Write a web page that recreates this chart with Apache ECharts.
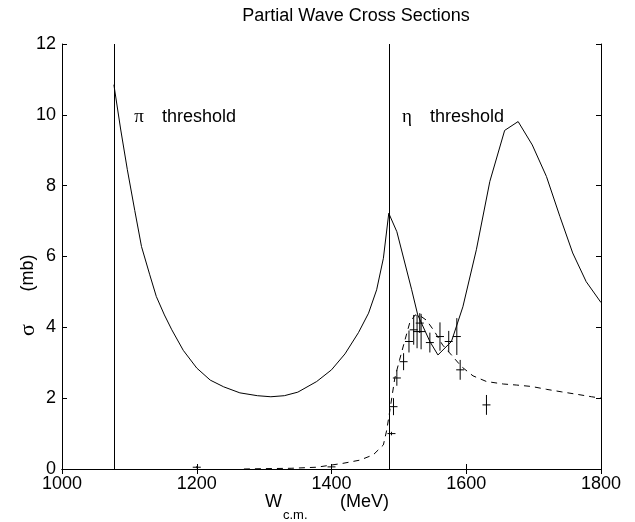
<!DOCTYPE html>
<html><head><meta charset="utf-8">
<script src="https://cdn.jsdelivr.net/npm/echarts@6/dist/echarts.min.js"></script>
<style>html,body{margin:0;padding:0;background:#fff}#c{width:635px;height:522px}</style>
</head><body><div id="c"></div>
<script>
const chartTitle = 'Partial Wave Cross Sections';
const xMin = 1000, xMax = 1800, xStep = 200;
const yMin = 0, yMax = 12, yStep = 2;
const thresholds = [1077, 1486];
const thresholdNames = ['π', 'η'];

// solid curve (W in MeV, sigma in mb)
const solidW = [1077,1087,1097,1108,1118,1130,1140,1152,1163,1180,1200,1220,1240,1264,1290,1310,1330,1350,1378,1400,1420,1440,1455,1467,1477,1485,1497,1519,1528,1546,1558,1578,1595,1615,1635,1657,1677,1698,1719,1739,1758,1778,1800];
const solidSigma = [10.85,9.6,8.45,7.3,6.28,5.5,4.87,4.35,3.93,3.35,2.85,2.51,2.32,2.15,2.07,2.04,2.07,2.17,2.47,2.8,3.25,3.85,4.4,5.06,5.95,7.22,6.7,5.06,4.35,3.6,3.22,3.6,4.58,6.19,8.12,9.56,9.81,9.15,8.26,7.13,6.1,5.29,4.7];

// dashed curve
const dashW = [1270,1300,1340,1378,1417,1442,1462,1477,1482,1487,1494,1501,1509,1516,1524,1532,1541,1553,1565,1578,1593,1610,1630,1655,1675,1697,1719,1741,1764,1786,1800];
const dashSigma = [0.0,0.01,0.02,0.05,0.16,0.25,0.4,0.68,1.1,1.7,2.57,3.08,3.64,4.12,4.35,4.32,4.2,3.88,3.5,3.22,2.89,2.63,2.47,2.4,2.37,2.33,2.25,2.18,2.11,2.04,2.0];

// data points with error bars
const dataW = [1200,1400,1489,1492,1497,1507,1515,1522,1527,1531,1533,1546,1561,1574,1586,1591,1630];
const dataSigma = [0.05,0.06,1.0,1.76,2.57,3.03,3.6,3.93,3.88,4.12,3.88,3.57,3.74,3.6,3.74,2.8,1.81];
const dataErr = [0.03,0.03,0.05,0.24,0.22,0.24,0.31,0.42,0.47,0.28,0.5,0.28,0.4,0.3,0.52,0.28,0.28];

const FONT = '"Liberation Sans", Arial, Helvetica, sans-serif';
const SERIF = '"Liberation Serif", "DejaVu Serif", serif';

const chart = echarts.init(document.getElementById('c'), null, {renderer: 'canvas'});

function axisCommon(showLabel) {
  return {
    axisLine: {show: true, lineStyle: {color: '#000', width: 1}},
    axisTick: {show: true, inside: true, length: 5, lineStyle: {color: '#000'}},
    axisLabel: {show: showLabel, color: '#000', fontSize: 18, fontFamily: FONT, margin: 6,
      formatter: function (v) { return String(v); }},
    splitLine: {show: false}
  };
}

const option = {
  animation: false,
  backgroundColor: '#fff',
  grid: {left: 62, right: 34, top: 44, bottom: 53, containLabel: false},
  xAxis: [
    Object.assign({type: 'value', min: xMin, max: xMax, interval: xStep, position: 'bottom'}, axisCommon(true)),
    Object.assign({type: 'value', min: xMin, max: xMax, interval: xStep, position: 'top'}, axisCommon(false))
  ],
  yAxis: [
    Object.assign({type: 'value', min: yMin, max: yMax, interval: yStep, position: 'left'}, axisCommon(true)),
    Object.assign({type: 'value', min: yMin, max: yMax, interval: yStep, position: 'right'}, axisCommon(false))
  ],
  series: [
    {
      type: 'line', xAxisIndex: 0, yAxisIndex: 0,
      data: solidW.map((w, i) => [w, solidSigma[i]]),
      showSymbol: false, smooth: false,
      lineStyle: {color: '#000', width: 1},
      markLine: {
        silent: true, symbol: 'none',
        label: {show: false},
        lineStyle: {color: '#000', width: 1, type: 'solid'},
        data: thresholds.map(t => ({xAxis: t}))
      }
    },
    {
      type: 'line', xAxisIndex: 0, yAxisIndex: 0,
      data: dashW.map((w, i) => [w, dashSigma[i]]),
      showSymbol: false, smooth: false,
      lineStyle: {color: '#000', width: 1, type: [6, 5]}
    },
    {
      type: 'custom', xAxisIndex: 0, yAxisIndex: 0,
      data: dataW.map((w, i) => [w, dataSigma[i], dataErr[i]]),
      encode: {x: 0, y: 1},
      renderItem: function (params, api) {
        const x = api.value(0), y = api.value(1), e = api.value(2);
        const c = api.coord([x, y]);
        const t = api.coord([x, y + e]);
        const b = api.coord([x, Math.max(0, y - e)]);
        return {
          type: 'group',
          children: [
            {type: 'line', shape: {x1: c[0], y1: t[1], x2: c[0], y2: b[1]}, style: {stroke: '#000', lineWidth: 1}},
            {type: 'line', shape: {x1: c[0] - 4, y1: c[1], x2: c[0] + 4, y2: c[1]}, style: {stroke: '#000', lineWidth: 1}}
          ]
        };
      }
    }
  ],
  graphic: [
    {type: 'text', x: 356, y: 16, style: {text: chartTitle, fill: '#000', font: '18px ' + FONT, textAlign: 'center', textVerticalAlign: 'middle'}},
    {type: 'text', x: 139, y: 117, style: {text: thresholdNames[0], fill: '#000', font: '19px ' + SERIF, textAlign: 'center', textVerticalAlign: 'middle'}},
    {type: 'text', x: 162, y: 117, style: {text: 'threshold', fill: '#000', font: '18px ' + FONT, textAlign: 'left', textVerticalAlign: 'middle'}},
    {type: 'text', x: 407, y: 117, style: {text: thresholdNames[1], fill: '#000', font: '19px ' + SERIF, textAlign: 'center', textVerticalAlign: 'middle'}},
    {type: 'text', x: 430, y: 117, style: {text: 'threshold', fill: '#000', font: '18px ' + FONT, textAlign: 'left', textVerticalAlign: 'middle'}},
    {type: 'text', x: 265, y: 502, style: {text: 'W', fill: '#000', font: '18px ' + FONT, textAlign: 'left', textVerticalAlign: 'middle'}},
    {type: 'text', x: 283, y: 515, style: {text: 'c.m.', fill: '#000', font: '13px ' + FONT, textAlign: 'left', textVerticalAlign: 'middle'}},
    {type: 'text', x: 340, y: 502, style: {text: '(MeV)', fill: '#000', font: '18px ' + FONT, textAlign: 'left', textVerticalAlign: 'middle'}},
    {type: 'text', x: 28, y: 330, rotation: Math.PI / 2, style: {text: 'σ', fill: '#000', font: '22px ' + SERIF, textAlign: 'center', textVerticalAlign: 'middle'}},
    {type: 'text', x: 28, y: 273, rotation: Math.PI / 2, style: {text: '(mb)', fill: '#000', font: '18px ' + FONT, textAlign: 'center', textVerticalAlign: 'middle'}}
  ]
};
chart.setOption(option);
</script>
</body></html>
